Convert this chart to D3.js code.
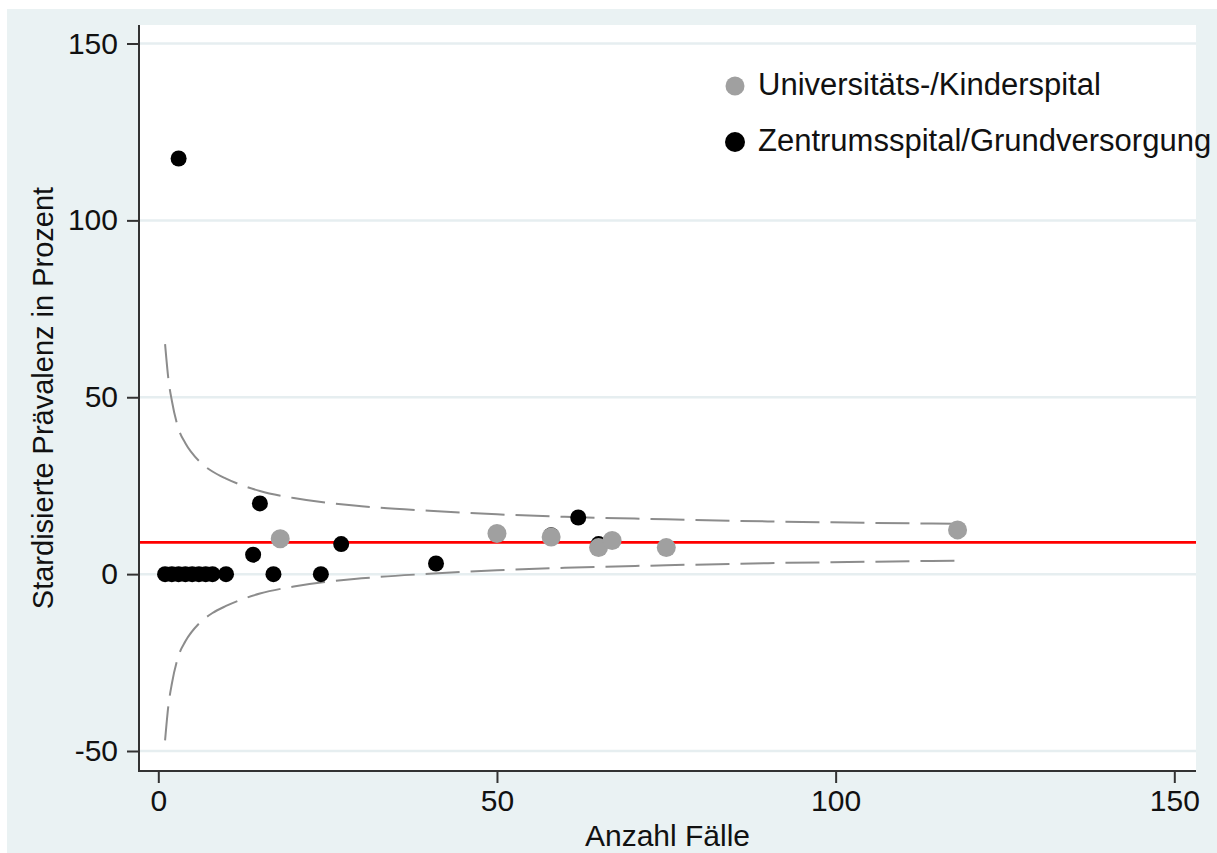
<!DOCTYPE html>
<html>
<head>
<meta charset="utf-8">
<script src="https://cdnjs.cloudflare.com/ajax/libs/d3/7.8.5/d3.min.js"></script>
<style>
  body { margin: 0; background: #fff; }
  text { font-family: "Liberation Sans", Arial, sans-serif; fill: #111; }
</style>
</head>
<body>
<div id="chart"></div>
<script>
// Universitäts-/Kinderspital (gray markers)
var uniX = [18, 50, 58, 65, 67, 75, 118];
var uniY = [10, 11.5, 10.5, 7.5, 9.5, 7.5, 12.5];

// Zentrumsspital/Grundversorgung (black markers)
var zenX = [1, 2, 3, 4, 5, 6, 7, 8, 10, 3, 14, 15, 17, 24, 27, 41, 58, 62, 65];
var zenY = [0, 0, 0, 0, 0, 0, 0, 0, 0, 117.5, 5.5, 20, 0, 0, 8.5, 3, 11, 16, 8.5];

// funnel limits
var limN     = [1, 1.5, 2, 3, 4, 6, 8, 10, 15, 20, 30, 40, 50, 60, 75, 90, 105, 118];
var limUpper = [65, 55, 49, 41, 37, 32, 29, 27, 23.5, 21.5, 19.2, 17.9, 16.9, 16.2, 15.5, 14.9, 14.5, 14.2];
var limLower = [-47, -37, -31, -23, -19, -14, -11, -9, -5.5, -3.5, -1.2, 0.1, 1.1, 1.8, 2.5, 3.1, 3.5, 3.8];

var meanLine = 9;

var xTicks = [0, 50, 100, 150];
var yTicks = [-50, 0, 50, 100, 150];

var seriesNames = ["Universitäts-/Kinderspital", "Zentrumsspital/Grundversorgung"];

var W = 1217, H = 853;
var plot = {left: 139, right: 1196, top: 25, bottom: 771};

var svg = d3.select("#chart").append("svg")
  .attr("width", W)
  .attr("height", H);

// outer background
svg.append("rect")
  .attr("x", 7).attr("y", 9)
  .attr("width", W - 7).attr("height", H - 9)
  .style("fill", "#eaf2f3");

svg.append("rect")
  .attr("x", plot.left).attr("y", plot.top)
  .attr("width", plot.right - plot.left).attr("height", plot.bottom - plot.top)
  .style("fill", "#fff");

var xScale = d3.scaleLinear()
  .domain([0, 150])
  .range([158.3, 1174.3]);

var yScale = d3.scaleLinear()
  .domain([-50, 150])
  .range([751, 43.5]);

// gridlines
svg.append("g").selectAll("line")
  .data(yTicks)
  .enter()
  .append("line")
  .attr("x1", plot.left).attr("x2", plot.right)
  .attr("y1", function(d) {return yScale(d);})
  .attr("y2", function(d) {return yScale(d);})
  .style("stroke", "#e6eef0")
  .style("stroke-width", 2.5);

// funnel limits
var line = d3.line()
  .x(function(d) {return xScale(d[0]);})
  .y(function(d) {return yScale(d[1]);})
  .curve(d3.curveMonotoneX);

[limUpper, limLower].forEach(function(vals) {
  svg.append("path")
    .datum(limN.map(function(n, i) {return [n, vals[i]];}))
    .attr("d", line)
    .style("fill", "none")
    .style("stroke", "#8c8c8c")
    .style("stroke-width", 2)
    .style("stroke-dasharray", "34,11");
});

// reference line
svg.append("line")
  .attr("x1", plot.left).attr("x2", plot.right)
  .attr("y1", yScale(meanLine)).attr("y2", yScale(meanLine))
  .style("stroke", "#ff0000")
  .style("stroke-width", 2.8);

// markers
svg.append("g").selectAll("circle")
  .data(zenX)
  .enter()
  .append("circle")
  .attr("cx", function(d) {return xScale(d);})
  .attr("cy", function(d, i) {return yScale(zenY[i]);})
  .attr("r", 8)
  .style("fill", "#000");

svg.append("g").selectAll("circle")
  .data(uniX)
  .enter()
  .append("circle")
  .attr("cx", function(d) {return xScale(d);})
  .attr("cy", function(d, i) {return yScale(uniY[i]);})
  .attr("r", 9.5)
  .style("fill", "#a0a0a0");

// axes
var fmt = function(d) {return String(d);};
var xAxis = d3.axisBottom(xScale).tickValues(xTicks).tickFormat(fmt).tickSize(12).tickPadding(7).tickSizeOuter(0);
var yAxis = d3.axisLeft(yScale).tickValues(yTicks).tickFormat(fmt).tickSize(12).tickPadding(9).tickSizeOuter(0);

var xAxisGroup = svg.append("g")
  .attr("transform", "translate(0," + plot.bottom + ")")
  .call(xAxis);

var yAxisGroup = svg.append("g")
  .attr("transform", "translate(" + plot.left + ",0)")
  .call(yAxis);

[xAxisGroup, yAxisGroup].forEach(function(g) {
  g.select(".domain").remove();
  g.selectAll(".tick line").style("stroke", "#333").style("stroke-width", 2);
  g.selectAll(".tick text").style("font-size", "30px").style("fill", "#111")
    .style("font-family", "'Liberation Sans', Arial, sans-serif");
});

svg.append("line")
  .attr("x1", plot.left).attr("x2", plot.left)
  .attr("y1", plot.top).attr("y2", plot.bottom + 1)
  .style("stroke", "#333").style("stroke-width", 2);
svg.append("line")
  .attr("x1", plot.left - 1).attr("x2", plot.right)
  .attr("y1", plot.bottom).attr("y2", plot.bottom)
  .style("stroke", "#333").style("stroke-width", 2);

// axis titles
svg.append("text")
  .attr("x", (plot.left + plot.right) / 2)
  .attr("y", 846)
  .attr("text-anchor", "middle")
  .style("font-size", "30px")
  .text("Anzahl Fälle");

svg.append("text")
  .attr("transform", "translate(53," + ((plot.top + plot.bottom) / 2) + ") rotate(-90)")
  .attr("text-anchor", "middle")
  .style("font-size", "29px")
  .text("Stardisierte Prävalenz in Prozent");

// legend
var legendColors = ["#a0a0a0", "#000"];
var legendR = [9.5, 10];
var legend = svg.append("g").selectAll("g")
  .data(seriesNames)
  .enter()
  .append("g")
  .attr("transform", function(d, i) {return "translate(735," + (86 + i * 56) + ")";});

legend.append("circle")
  .attr("r", function(d, i) {return legendR[i];})
  .style("fill", function(d, i) {return legendColors[i];});

legend.append("text")
  .attr("x", 23)
  .attr("y", 9)
  .style("font-size", "31px")
  .text(function(d) {return d;});
</script>
</body>
</html>
